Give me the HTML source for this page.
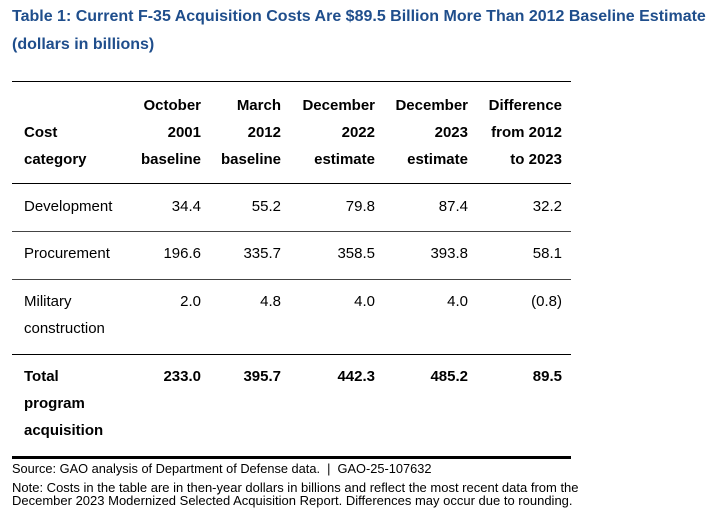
<!DOCTYPE html>
<html><head><meta charset="utf-8"><style>
body{margin:0;width:720px;height:516px;background:#fff;font-family:"Liberation Sans",Arial,sans-serif;color:#000;position:relative;overflow:hidden}
.a{position:absolute;white-space:nowrap}
.t{color:#1f4e8c;font-weight:bold;font-size:16px;left:12px}
.h{font-weight:bold;font-size:15px}
.c{font-size:15px}
.ln{position:absolute;left:12px;width:559px;background:#000}
.s{font-size:12.8px;left:12px}
</style></head><body>
<div class="a t" style="top:8px">Table 1: Current F-35 Acquisition Costs Are $89.5 Billion More Than 2012 Baseline Estimate</div>
<div class="a t" style="top:36px">(dollars in billions)</div>
<div class="ln" style="top:81px;height:1px"></div>
<div class="ln" style="top:183px;height:1px"></div>
<div class="ln" style="top:231px;height:1px;background:#444"></div>
<div class="ln" style="top:279px;height:1px;background:#444"></div>
<div class="ln" style="top:354px;height:1px"></div>
<div class="ln" style="top:456px;height:3px"></div>
<div id="tbl"></div>
<div class="a s" style="top:461px">Source: GAO analysis of Department of Defense data.&nbsp; |&nbsp; GAO-25-107632</div>
<div class="a s" style="top:481px;line-height:13px;font-size:13px">Note: Costs in the table are in then-year dollars in billions and reflect the most recent data from the<br>December 2023 Modernized Selected Acquisition Report. Differences may occur due to rounding.</div>
<script>
const headers=[["October","2001","baseline"],["March","2012","baseline"],["December","2022","estimate"],["December","2023","estimate"],["Difference","from 2012","to 2023"]];
const categories=[["Development"],["Procurement"],["Military","construction"],["Total","program","acquisition"]];
const values=[["34.4","55.2","79.8","87.4","32.2"],["196.6","335.7","358.5","393.8","58.1"],["2.0","4.8","4.0","4.0","(0.8)"],["233.0","395.7","442.3","485.2","89.5"]];
const colRight=[201,281,375,468,562];
const rowTop=[198,245,293,368];
const t=document.getElementById('tbl');
function add(txt,cls,x,y,right){const d=document.createElement('div');d.className='a '+cls;d.textContent=txt;d.style.top=y+'px';if(right){d.style.right=(720-x)+'px';}else{d.style.left=x+'px';}t.appendChild(d);return d;}
["Cost","category"].forEach((w,i)=>{const e=add(w,'h',24,124+i*27,false);

});
headers.forEach((h,c)=>h.forEach((w,i)=>{const e=add(w,'h',colRight[c],97+i*27,true);

}));
categories.forEach((cat,r)=>{const b=r===3?'h':'c';
cat.forEach((w,i)=>{const e=add(w,b,24,rowTop[r]+i*27,false);

});
values[r].forEach((v,c)=>{const e=add(v,b,colRight[c],rowTop[r],true);

});});
</script>
</body></html>
